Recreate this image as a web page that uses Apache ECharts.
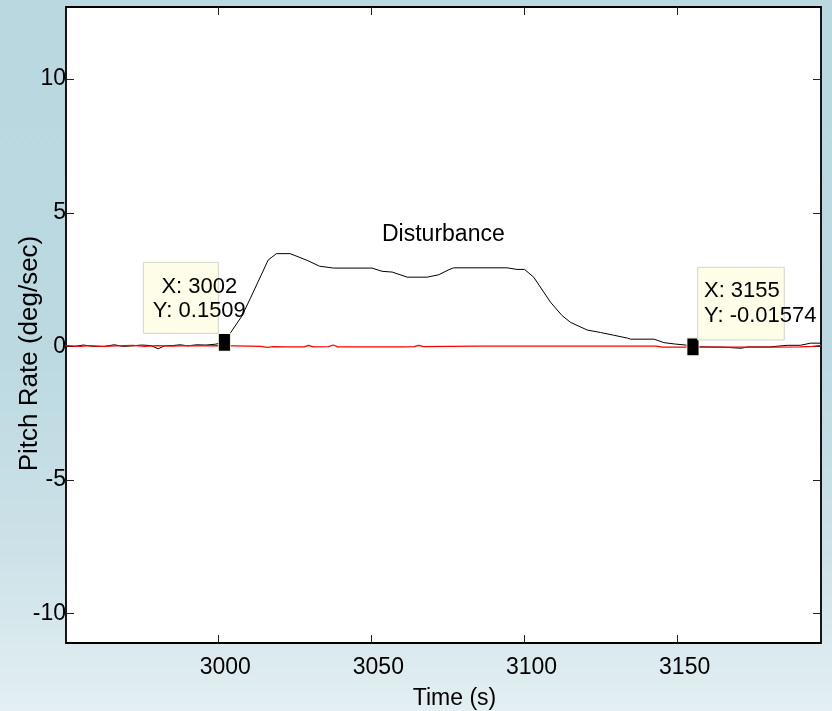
<!DOCTYPE html>
<html><head><meta charset="utf-8">
<script src="https://cdn.jsdelivr.net/npm/echarts@6/dist/echarts.min.js"></script>
<style>html,body{margin:0;padding:0;background:#fff}#c{width:832px;height:711px}</style>
</head><body><div id="c"></div>
<script>
// ---- data ----
const xTicks = [3000, 3050, 3100, 3150];
const yTicks = [-10, -5, 0, 5, 10];
const xRange = [2950.3, 3196.8];
const yRange = [-11.1, 12.7];

const blackTime = [2950, 2953, 2956, 2959, 2963, 2966, 2969, 2972, 2975, 2978, 2980.4, 2982.5, 2985, 2987.6, 2990, 2993, 2996, 2999, 3002,
  3003.9, 3007.7, 3010.5, 3013.1, 3016.3, 3019.0, 3023.5, 3025.7, 3029.0, 3033.1, 3037.7, 3050.2, 3053.5, 3056.8, 3061.7, 3068.2,
  3072.0, 3075.3, 3076.9, 3094.3, 3097.5, 3100.0, 3103.0, 3108.5, 3112.3, 3115.0, 3120.5, 3124.8, 3129.0, 3133.6, 3134.6, 3142.3,
  3145.5, 3149.0, 3152.6, 3155, 3160, 3165, 3170.6, 3173, 3180, 3185.8, 3190, 3193.4, 3196.8];
const blackRate = [0.02, 0.0, 0.05, 0.0, 0.0, 0.06, 0.0, 0.02, 0.05, 0.03, -0.09, 0.02, 0.03, 0.06, 0.02, 0.06, 0.05, 0.08, 0.1509,
  0.49, 1.13, 1.8, 2.44, 3.23, 3.47, 3.47, 3.37, 3.22, 3.0, 2.93, 2.93, 2.81, 2.78, 2.59, 2.59,
  2.68, 2.87, 2.94, 2.94, 2.88, 2.88, 2.59, 1.65, 1.15, 0.9, 0.61, 0.52, 0.42, 0.31, 0.27, 0.27,
  0.14, 0.09, 0.05, -0.01574, -0.02, -0.03, -0.07, -0.02, -0.02, 0.04, 0.04, 0.12, 0.12];

const redTime = [2950, 2955, 2958, 2962, 2967, 2972, 2976, 2980, 2985, 2990, 2995, 3000, 3005, 3010, 3014, 3016, 3018, 3022, 3028,
  3029.5, 3031, 3036, 3037.5, 3039, 3050, 3060, 3064, 3065.5, 3067, 3075, 3085, 3095, 3105, 3115, 3125, 3135, 3143, 3145, 3160,
  3170, 3180, 3190, 3194, 3196.8];
const redRate = [0.03, 0.0, 0.03, 0.0, 0.02, 0.04, 0.0, 0.03, 0.01, 0.03, 0.02, 0.03, 0.02, 0.01, 0.0, -0.04, -0.01, -0.02, -0.02,
  0.04, -0.02, -0.01, 0.05, -0.02, -0.02, -0.02, -0.01, 0.04, -0.01, 0.0, 0.01, 0.01, 0.01, 0.01, 0.01, 0.01, 0.01, -0.03, -0.03,
  -0.03, -0.03, -0.02, 0.0, 0.04];

const tipTime = [3002, 3155];
const tipRate = [0.1509, -0.01574];
const tipText = ['X: 3002\nY: 0.1509', 'X: 3155\nY: -0.01574'];

const noteText = 'Disturbance';
const noteAt = [3073.5, 4.2];

const xName = 'Time (s)';
const yName = 'Pitch Rate (deg/sec)';

// ---- chart ----
const FF = "'Liberation Sans', Arial, Helvetica, sans-serif";
const chart = echarts.init(document.getElementById('c'), null, {renderer: 'canvas'});
const pairs = (a, b) => a.map((t, i) => [t, b[i]]);
const plain = v => String(v);

const tickStyle = {show: true, inside: true, length: 8, lineStyle: {color: '#222', width: 1}};
const noLine = {show: false, onZero: false};

chart.setOption({
  animation: false,
  backgroundColor: {
    type: 'linear', x: 0, y: 0, x2: 0, y2: 1,
    colorStops: [
      {offset: 0, color: '#b9d8e0'},
      {offset: 0.5, color: '#bcd9e1'},
      {offset: 0.78, color: '#cde2e8'},
      {offset: 1, color: '#e3eff3'}
    ]
  },
  grid: {left: 66, right: 11, top: 7, bottom: 68, show: true, backgroundColor: '#ffffff', borderColor: '#000', borderWidth: 1.8,
    containLabel: false, outerBoundsMode: 'none'},
  xAxis: [{
    type: 'value', min: xRange[0], max: xRange[1], position: 'bottom',
    axisLine: noLine,
    axisTick: Object.assign({}, tickStyle, {customValues: xTicks}),
    axisLabel: {customValues: xTicks, formatter: plain, fontSize: 23, color: '#000', fontFamily: FF, margin: 13, padding: [0, 0, 0, 14]},
    splitLine: {show: false},
    name: xName, nameLocation: 'middle', nameGap: 44, nameMoveOverlap: false,
    nameTextStyle: {fontSize: 23, color: '#000', fontFamily: FF, padding: [0, 0, 0, 22]}
  }, {
    type: 'value', min: xRange[0], max: xRange[1], position: 'top',
    axisLine: noLine,
    axisTick: Object.assign({}, tickStyle, {customValues: xTicks}),
    axisLabel: {show: false}, splitLine: {show: false}
  }],
  yAxis: [{
    type: 'value', min: yRange[0], max: yRange[1], position: 'left',
    axisLine: noLine,
    axisTick: Object.assign({}, tickStyle, {customValues: yTicks}),
    axisLabel: {customValues: yTicks, formatter: plain, fontSize: 23, color: '#000', fontFamily: FF, margin: 0},
    splitLine: {show: false},
    name: yName, nameLocation: 'middle', nameGap: 23, nameRotate: 90, nameMoveOverlap: false,
    nameTextStyle: {fontSize: 26, color: '#000', fontFamily: FF, padding: [0, 57, 0, 0]}
  }, {
    type: 'value', min: yRange[0], max: yRange[1], position: 'right',
    axisLine: noLine,
    axisTick: Object.assign({}, tickStyle, {customValues: yTicks}),
    axisLabel: {show: false}, splitLine: {show: false}
  }],
  series: [{
    name: 'Pitch Rate', type: 'line', data: pairs(blackTime, blackRate),
    showSymbol: false, symbol: 'none', lineStyle: {color: '#000', width: 1}, z: 2, clip: true
  }, {
    name: 'Commanded', type: 'line', data: pairs(redTime, redRate),
    showSymbol: false, symbol: 'none', lineStyle: {color: '#ff0000', width: 1.2}, z: 3, clip: true
  }, {
    name: 'Data tips', type: 'scatter', data: pairs(tipTime, tipRate),
    symbol: 'rect', symbolSize: [12, 18],
    itemStyle: {color: '#000', borderColor: '#fbfbdc', borderWidth: 1, opacity: 1}, z: 6
  }]
});

function addNotes() {
  const p1 = chart.convertToPixel({gridIndex: 0}, [tipTime[0], tipRate[0]]);
  const p2 = chart.convertToPixel({gridIndex: 0}, [tipTime[1], tipRate[1]]);
  const pn = chart.convertToPixel({gridIndex: 0}, noteAt);
  const box = {fill: '#fdfde8', stroke: '#d4d4cc', lineWidth: 1};
  chart.setOption({
    graphic: [
      {type: 'rect', shape: {x: p1[0] - 81, y: p1[1] - 80, width: 75, height: 71}, style: box, z: 10},
      {type: 'text', x: p1[0] - 25, y: p1[1] - 43.5, z: 11,
        style: {text: tipText[0], fill: '#000', fontSize: 22, fontFamily: FF, lineHeight: 24, align: 'center', verticalAlign: 'middle'}},
      {type: 'rect', shape: {x: p2[0] + 4.7, y: p2[1] - 79.5, width: 86.6, height: 72.7}, style: box, z: 10},
      {type: 'text', x: p2[0] + 11, y: p2[1] - 43.3, z: 11,
        style: {text: tipText[1], fill: '#000', fontSize: 22, fontFamily: FF, lineHeight: 25, align: 'left', verticalAlign: 'middle'}},
      {type: 'text', x: pn[0], y: pn[1] + 1, z: 11,
        style: {text: noteText, fill: '#000', fontSize: 23, fontFamily: FF, align: 'center', verticalAlign: 'middle'}}
    ]
  });
}
addNotes();
</script></body></html>
